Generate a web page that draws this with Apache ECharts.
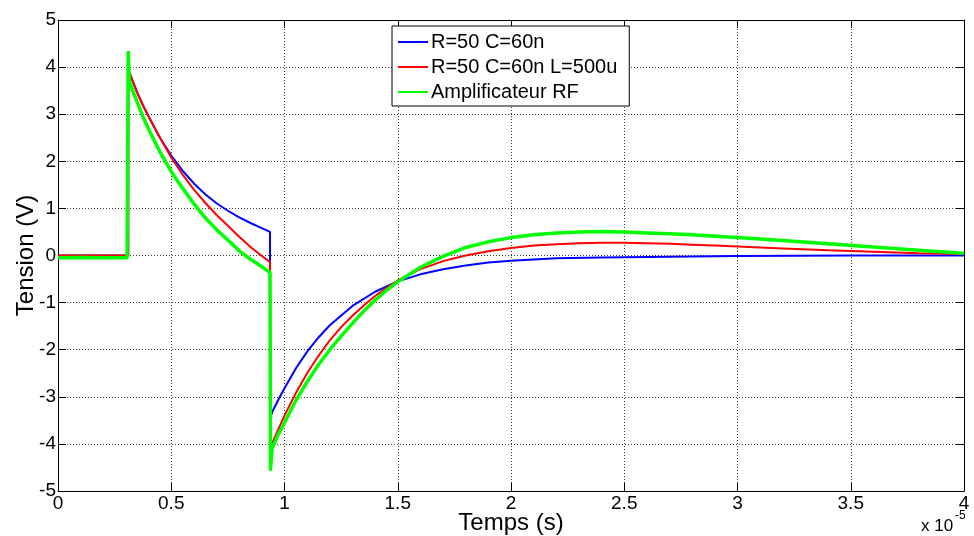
<!DOCTYPE html>
<html><head><meta charset="utf-8">
<script src="https://cdn.jsdelivr.net/npm/echarts@6/dist/echarts.min.js"></script>
<style>html,body{margin:0;padding:0;background:#fff}#c{width:974px;height:536px}</style>
</head><body><div id="c"></div>
<script>
// time in units of 1e-5 s
const seriesNames = ['R=50 C=60n', 'R=50 C=60n L=500u', 'Amplificateur RF'];
const xTicks = [0, 0.5, 1, 1.5, 2, 2.5, 3, 3.5, 4];
const yTicks = [-5, -4, -3, -2, -1, 0, 1, 2, 3, 4, 5];

const blueT = [0, 0.31, 0.31, 0.33, 0.35, 0.375, 0.4, 0.45, 0.5, 0.55, 0.6, 0.65, 0.7, 0.75, 0.8, 0.85, 0.9, 0.936, 0.936, 0.95, 0.975, 1.0, 1.05, 1.1, 1.15, 1.2, 1.3, 1.4, 1.5, 1.6, 1.7, 1.8, 1.9, 2.0, 2.2, 2.4, 2.6, 2.8, 3.0, 3.5, 4.0];
const blueV = [0, 0, 3.95, 3.70, 3.46, 3.19, 2.95, 2.50, 2.12, 1.80, 1.53, 1.30, 1.11, 0.95, 0.81, 0.69, 0.58, 0.50, -3.45, -3.28, -3.04, -2.82, -2.40, -2.04, -1.74, -1.48, -1.07, -0.77, -0.55, -0.40, -0.29, -0.21, -0.15, -0.11, -0.06, -0.04, -0.03, -0.02, -0.01, 0, 0];

const redT = [0, 0.31, 0.31, 0.33, 0.35, 0.375, 0.4, 0.45, 0.5, 0.55, 0.6, 0.65, 0.7, 0.75, 0.8, 0.85, 0.9, 0.936, 0.94, 0.97, 1.0, 1.05, 1.1, 1.15, 1.2, 1.25, 1.3, 1.35, 1.4, 1.45, 1.5, 1.6, 1.7, 1.8, 1.9, 2.0, 2.1, 2.2, 2.3, 2.4, 2.5, 2.6, 2.7, 2.8, 2.9, 3.0, 3.2, 3.4, 3.6, 3.8, 4.0];
const redV = [0, 0, 3.96, 3.70, 3.45, 3.19, 2.95, 2.50, 2.08, 1.72, 1.40, 1.12, 0.86, 0.63, 0.40, 0.18, -0.01, -0.14, -4.05, -3.72, -3.40, -2.92, -2.50, -2.13, -1.80, -1.52, -1.28, -1.06, -0.86, -0.69, -0.53, -0.29, -0.12, 0.0, 0.09, 0.16, 0.21, 0.24, 0.26, 0.27, 0.27, 0.26, 0.25, 0.23, 0.21, 0.19, 0.15, 0.11, 0.08, 0.05, 0.03];

const greenT = [0, 0.1, 0.2, 0.305, 0.31, 0.315, 0.33, 0.35, 0.375, 0.4, 0.45, 0.5, 0.55, 0.6, 0.65, 0.7, 0.75, 0.8, 0.85, 0.9, 0.936, 0.938, 0.945, 0.97, 1.0, 1.05, 1.1, 1.15, 1.2, 1.25, 1.3, 1.35, 1.4, 1.45, 1.5, 1.6, 1.7, 1.8, 1.9, 2.0, 2.1, 2.2, 2.3, 2.4, 2.5, 2.6, 2.7, 2.8, 2.9, 3.0, 3.2, 3.4, 3.6, 3.8, 4.0];
const greenV = [-0.05, -0.04, -0.05, -0.05, 4.34, 3.70, 3.50, 3.25, 2.95, 2.68, 2.20, 1.78, 1.43, 1.10, 0.80, 0.55, 0.33, 0.10, -0.08, -0.24, -0.36, -4.57, -4.10, -3.82, -3.55, -3.08, -2.68, -2.32, -2.00, -1.71, -1.44, -1.18, -0.95, -0.74, -0.56, -0.25, -0.02, 0.17, 0.29, 0.38, 0.44, 0.48, 0.50, 0.51, 0.50, 0.48, 0.46, 0.44, 0.41, 0.38, 0.32, 0.25, 0.18, 0.11, 0.05];

function zip(a, b) { return a.map((t, i) => [t, b[i]]); }

const FONT = 'Liberation Sans, Arial, sans-serif';
const chart = echarts.init(document.getElementById('c'), null, {renderer: 'canvas'});
const gridLine = {show: true, lineStyle: {color: '#000', type: [1, 2], width: 1, opacity: 0.75}};
const axisLine = {show: true, onZero: false, lineStyle: {color: '#000', width: 1}};
const tick = {show: true, inside: true, length: 8, lineStyle: {color: '#000'}};

chart.setOption({
  animation: false,
  backgroundColor: '#fff',
  grid: {left: 58, right: 10, top: 20, bottom: 45, containLabel: false, outerBoundsMode: 'none'},
  legend: {
    orient: 'vertical', left: 392, top: 26,
    data: seriesNames,
    backgroundColor: '#fff', borderColor: '#000', borderWidth: 1,
    padding: [6, 12, 4, 6], itemGap: 5, itemWidth: 30, itemHeight: 2,
    icon: 'rect',
    textStyle: {fontFamily: FONT, fontSize: 20, lineHeight: 20, color: '#000', padding: [0, 0, 0, -2]}
  },
  xAxis: [
    {type: 'value', min: 0, max: 4, interval: 0.5, position: 'bottom',
     name: 'Temps (s)', nameLocation: 'middle', nameGap: 20, nameMoveOverlap: false,
     nameTextStyle: {fontFamily: FONT, fontSize: 24, color: '#000'},
     axisLine: axisLine, axisTick: tick, splitLine: gridLine,
     axisLabel: {fontFamily: FONT, fontSize: 19, color: '#000', margin: 3,
       formatter: v => String(v)}},
    {type: 'value', min: 0, max: 4, interval: 0.5, position: 'top',
     axisLine: axisLine, axisTick: tick, splitLine: {show: false}, axisLabel: {show: false}}
  ],
  yAxis: [
    {type: 'value', min: -5, max: 5, interval: 1, position: 'left',
     name: 'Tension (V)', nameLocation: 'middle', nameGap: 20, nameRotate: 90, nameMoveOverlap: false,
     nameTextStyle: {fontFamily: FONT, fontSize: 24, color: '#000'},
     axisLine: axisLine, axisTick: tick, splitLine: gridLine,
     axisLabel: {fontFamily: FONT, fontSize: 19, color: '#000', margin: 2}},
    {type: 'value', min: -5, max: 5, interval: 1, position: 'right',
     axisLine: axisLine, axisTick: tick, splitLine: {show: false}, axisLabel: {show: false}}
  ],
  graphic: [
    {type: 'text', left: 921, top: 518,
     style: {text: 'x 10', font: '17px ' + FONT, fill: '#000'}},
    {type: 'text', left: 955, top: 510,
     style: {text: '-5', font: '12px ' + FONT, fill: '#000'}}
  ],
  series: [
    {name: seriesNames[0], type: 'line', data: zip(blueT, blueV), showSymbol: false, symbol: 'none',
     lineStyle: {color: '#0000ff', width: 2}, itemStyle: {color: '#0000ff'}},
    {name: seriesNames[1], type: 'line', data: zip(redT, redV), showSymbol: false, symbol: 'none',
     lineStyle: {color: '#ff0000', width: 2}, itemStyle: {color: '#ff0000'}},
    {name: seriesNames[2], type: 'line', data: zip(greenT, greenV), showSymbol: false, symbol: 'none',
     lineStyle: {color: '#00ff00', width: 3.5}, itemStyle: {color: '#00ff00'}}
  ]
});
</script></body></html>
